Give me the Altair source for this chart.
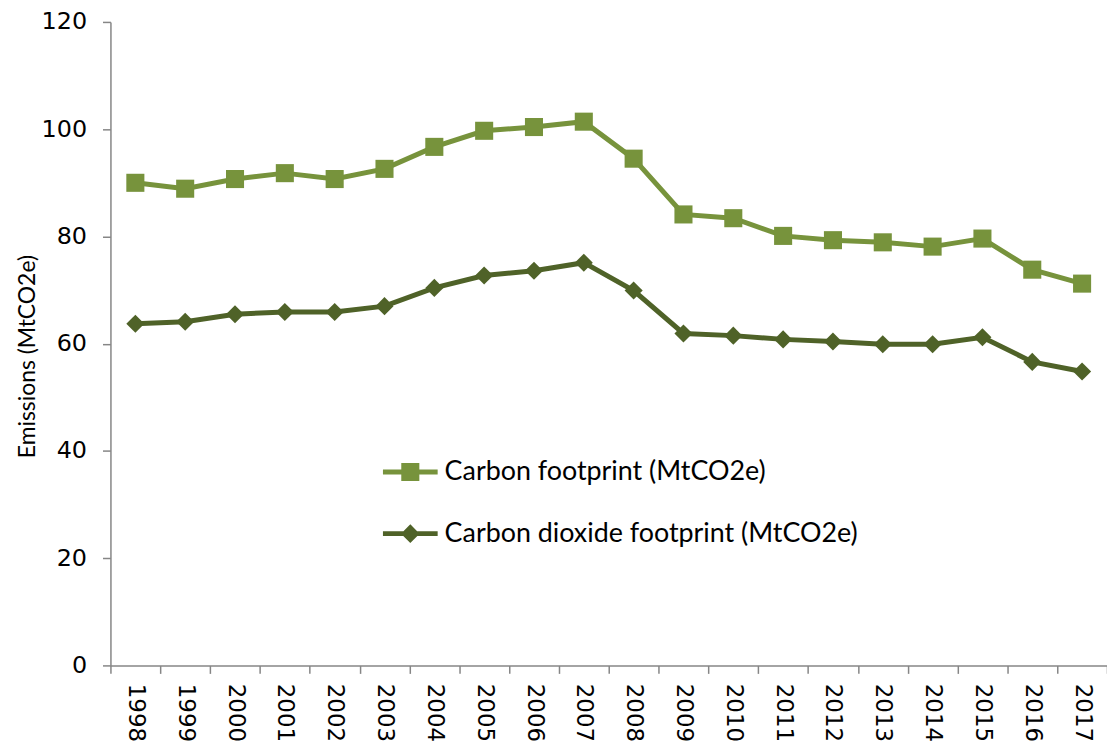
import altair as alt
import pandas as pd

years = ["1998", "1999", "2000", "2001", "2002", "2003", "2004", "2005", "2006", "2007",
         "2008", "2009", "2010", "2011", "2012", "2013", "2014", "2015", "2016", "2017"]
carbon = [90.0, 88.9, 90.7, 91.8, 90.7, 92.6, 96.7, 99.7, 100.4, 101.4,
          94.5, 84.1, 83.4, 80.1, 79.3, 78.9, 78.1, 79.6, 73.8, 71.2]
co2 = [63.7, 64.1, 65.5, 65.9, 65.9, 67.0, 70.4, 72.7, 73.6, 75.1,
       69.9, 61.9, 61.5, 60.8, 60.4, 59.9, 59.9, 61.2, 56.6, 54.8]
series_names = ["Carbon footprint (MtCO2e)", "Carbon dioxide footprint (MtCO2e)"]
series_colors = ["#77933C", "#4F6228"]
series_shapes = ["square", "diamond"]
legend_paths = [
    "M-1,-0.09H1V0.09H-1Z M-0.33,-0.33H0.33V0.33H-0.33Z",
    "M-1,-0.09H1V0.09H-1Z M0,-0.34L0.34,0L0,0.34L-0.34,0Z",
]

rows = []
for name, vals in zip(series_names, [carbon, co2]):
    for y, v in zip(years, vals):
        rows.append({"year": y, "value": v, "series": name})
df = pd.DataFrame(rows)

x_enc = alt.X("year:N", sort=years,
              scale=alt.Scale(paddingInner=0, paddingOuter=0),
              axis=alt.Axis(title=None, labelAngle=90, tickBand="extent",
                            labelFont="DejaVu Sans", labelFontSize=23,
                            labelColor="#000000", labelPadding=10,
                            domainColor="#868686", domainWidth=1.5,
                            tickColor="#868686", tickWidth=1.5, tickSize=8))
y_enc = alt.Y("value:Q",
              scale=alt.Scale(domain=[0, 120], nice=False, zero=True),
              axis=alt.Axis(title="Emissions (MtCO2e)", values=[0, 20, 40, 60, 80, 100, 120],
                            grid=False, labelFont="DejaVu Sans", labelFontSize=24,
                            labelColor="#000000", labelPadding=16,
                            titleFont="Lato", titleFontSize=23, titleFontWeight="normal",
                            titleColor="#000000", titlePadding=2, titleY=336,
                            domainColor="#868686", domainWidth=1.5,
                            tickColor="#868686", tickWidth=1.5, tickSize=8))

layers = []
for name, col, shp in zip(series_names, series_colors, series_shapes):
    sub = alt.Chart(df).transform_filter(alt.datum.series == name)
    layers.append(sub.mark_line(strokeWidth=5, color=col).encode(x=x_enc, y=y_enc))
    layers.append(sub.mark_point(filled=True, opacity=1, color=col, shape=shp,
                                 size=330, strokeWidth=0)
                  .encode(x=x_enc, y=y_enc))

legend_cfg = dict(title=None, orient="none", legendX=274, legendY=425,
                  symbolSize=3025, symbolOpacity=1, symbolStrokeWidth=0,
                  labelFont="Lato", labelFontSize=27, labelColor="#000000",
                  labelOffset=7, rowPadding=21, padding=0, labelLimit=0)

legend_layer = alt.Chart(df).mark_point(filled=True, opacity=0).encode(
    x=x_enc, y=y_enc,
    color=alt.Color("series:N", scale=alt.Scale(domain=series_names, range=series_colors),
                    legend=alt.Legend(**legend_cfg)),
    shape=alt.Shape("series:N", scale=alt.Scale(domain=series_names, range=legend_paths),
                    legend=alt.Legend(**legend_cfg)),
)

chart = alt.layer(*layers, legend_layer).properties(
    width=1002, height=647,
    autosize=alt.AutoSizeParams(type="none"),
    padding={"left": 103, "top": 12, "right": 0, "bottom": 76},
).configure_view(stroke=None)

chart.save("out.html", embed_options={"renderer": "svg", "actions": False})
